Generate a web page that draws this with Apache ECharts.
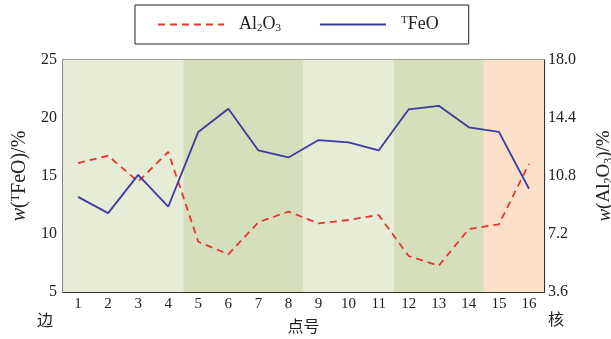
<!DOCTYPE html>
<html>
<head>
<meta charset="utf-8">
<script src="https://cdn.jsdelivr.net/npm/echarts@6/dist/echarts.min.js"></script>
<style>
html,body{margin:0;padding:0;background:#fff;}
#c{width:611px;height:339px;}
</style>
</head>
<body>
<div id="c"></div>
<script>
const categories = ['1','2','3','4','5','6','7','8','9','10','11','12','13','14','15','16'];
const feoValues = [13.2, 11.8, 15.1, 12.35, 18.8, 20.8, 17.2, 16.6, 18.1, 17.9, 17.2, 20.75, 21.05, 19.2, 18.8, 13.9];
const al2o3Values = [11.6, 12.06, 10.45, 12.3, 6.72, 5.94, 7.93, 8.59, 7.86, 8.07, 8.38, 5.83, 5.23, 7.51, 7.8, 11.55];
const leftTicks = [5, 10, 15, 20, 25];
const rightTicks = [3.6, 7.2, 10.8, 14.4, 18.0];
// zone bands: [first point, last point, colour]
const zones = [
  [1, 4, '#e7ecd6'],
  [5, 8, '#d6dfbb'],
  [9, 11, '#e7ecd6'],
  [12, 14, '#d6dfbb'],
  [15, 16, '#fde0c9']
];

const serif = '"Liberation Serif", "Times New Roman", serif';
const cjk = '"Noto Sans CJK SC", sans-serif';

const chart = echarts.init(document.getElementById('c'));
const option = {
  backgroundColor: '#fff',
  animation: false,
  grid: {left: 63, right: 67, top: 60, bottom: 47, containLabel: false, outerBoundsMode: 'none',
    show: true, borderColor: '#444', borderWidth: 1.2, backgroundColor: 'transparent'},
  legend: {
    orient: 'horizontal',
    left: 135, top: 5,
    padding: [10, 30, 10, 22],
    borderColor: '#222', borderWidth: 1,
    itemWidth: 66, itemHeight: 14, itemGap: 38,
    itemStyle: {opacity: 0},
    data: ['Al2O3', 'TFeO'],
    formatter: function (n) {
      if (n === 'Al2O3') return '{a|Al}{s|2}{a|O}{s|3}';
      return '{p|T}{a|FeO}';
    },
    textStyle: {
      fontFamily: serif, fontSize: 18, color: '#222', padding: [0, 0, 0, 10],
      rich: {
        a: {fontFamily: serif, fontSize: 18, color: '#222'},
        s: {fontFamily: serif, fontSize: 11, color: '#222', verticalAlign: 'bottom', padding: [8, 0, 0, 0]},
        p: {fontFamily: serif, fontSize: 11, color: '#222', verticalAlign: 'top', padding: [0, 0, 8, 0]}
      }
    }
  },
  xAxis: [{
    type: 'category', data: categories, boundaryGap: true,
    axisLine: {lineStyle: {color: '#333', width: 1.2}},
    axisTick: {inside: true, alignWithLabel: true, length: 5, lineStyle: {color: '#333'}},
    axisLabel: {interval: 0, margin: 5, fontFamily: serif, fontSize: 15, color: '#222'},
    name: '点号', nameLocation: 'middle', nameGap: 26,
    nameTextStyle: {fontFamily: cjk, fontSize: 16, color: '#222'}
  }, {
    type: 'value', min: 0.5, max: 16.5, show: false
  }],
  yAxis: [{
    type: 'value', min: 5, max: 25, interval: 5, position: 'left',
    axisLine: {show: true, lineStyle: {color: '#333', width: 1.2}},
    axisTick: {show: true, inside: true, length: 5, lineStyle: {color: '#333'}},
    splitLine: {show: false},
    axisLabel: {margin: 6, fontFamily: serif, fontSize: 16, color: '#222',
      formatter: function (v) { return leftTicks.indexOf(v) >= 0 ? String(v) : ''; }},
    name: '{i|w}{a|(}{p|T}{a|FeO)/%}', nameLocation: 'middle', nameRotate: 90, nameGap: 28,
    nameTextStyle: {
      fontFamily: serif, fontSize: 20, color: '#222',
      rich: {
        i: {fontFamily: serif, fontSize: 20, fontStyle: 'italic', color: '#222'},
        a: {fontFamily: serif, fontSize: 20, color: '#222'},
        p: {fontFamily: serif, fontSize: 12, color: '#222', verticalAlign: 'top', padding: [0, 0, 9, 0]}
      }
    }
  }, {
    type: 'value', min: 3.6, max: 18.0, interval: 3.6, position: 'right',
    axisLine: {show: true, lineStyle: {color: '#333', width: 1.2}},
    axisTick: {show: true, inside: true, length: 5, lineStyle: {color: '#333'}},
    splitLine: {show: false},
    axisLabel: {margin: 4, fontFamily: serif, fontSize: 16, color: '#222',
      formatter: function (v) { return v.toFixed(1); }},
    name: '{i|w}{a|(Al}{s|2}{a|O}{s|3}{a|)/%}', nameLocation: 'middle', nameRotate: 90, nameGap: 50,
    nameTextStyle: {
      fontFamily: serif, fontSize: 19, color: '#222',
      rich: {
        i: {fontFamily: serif, fontSize: 19, fontStyle: 'italic', color: '#222'},
        a: {fontFamily: serif, fontSize: 19, color: '#222'},
        s: {fontFamily: serif, fontSize: 12, color: '#222', verticalAlign: 'bottom', padding: [9, 0, 0, 0]}
      }
    }
  }],
  graphic: [
    {type: 'text', left: 37, top: 312, style: {text: '边', font: '16px "Noto Sans CJK SC"', fill: '#222'}},
    {type: 'text', left: 548, top: 311, style: {text: '核', font: '16px "Noto Sans CJK SC"', fill: '#222'}}
  ],
  series: [{
    name: 'zones', type: 'line', xAxisIndex: 1, yAxisIndex: 0, data: [], silent: true,
    markArea: {
      silent: true,
      data: zones.map(function (z) {
        return [{xAxis: z[0] - 0.5, yAxis: 5, itemStyle: {color: z[2]}}, {xAxis: z[1] + 0.5, yAxis: 25}];
      })
    },
    z: 0
  }, {
    name: 'Al2O3', type: 'line', xAxisIndex: 0, yAxisIndex: 1, data: al2o3Values,
    symbol: 'none', smooth: false,
    lineStyle: {color: '#e8352b', width: 1.8, type: [7, 5]},
    itemStyle: {color: '#e8352b'},
    z: 3
  }, {
    name: 'TFeO', type: 'line', xAxisIndex: 0, yAxisIndex: 0, data: feoValues,
    symbol: 'none', smooth: false,
    lineStyle: {color: '#3b3ba0', width: 1.8},
    itemStyle: {color: '#3b3ba0'},
    z: 3
  }]
};
chart.setOption(option);
</script>
</body>
</html>
